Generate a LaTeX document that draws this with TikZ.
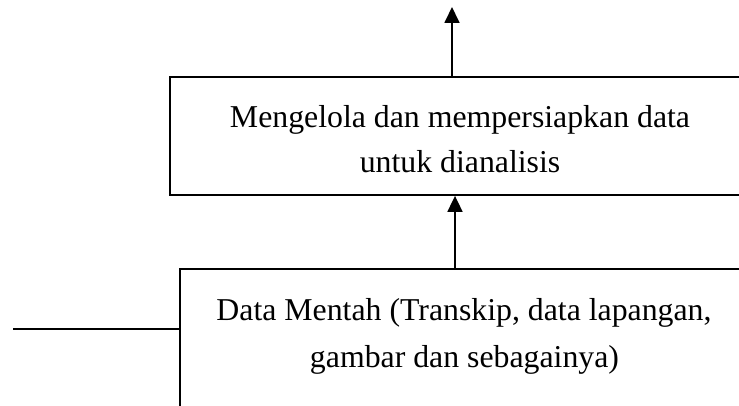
\documentclass[tikz,border=0pt]{standalone}
\usepackage{fontspec}
\setmainfont{Liberation Serif}
\usetikzlibrary{arrows.meta}
\begin{document}
\begin{tikzpicture}[x=1pt,y=-1pt,
  boxstyle/.style={draw=black,line width=1.8pt,rectangle,inner sep=0pt,fill=none},
  txt/.style={font=\fontsize{31.8}{46}\selectfont,inner sep=0pt,anchor=base},
  arr/.style={line width=1.8pt,-{Triangle[width=15pt,length=16pt]}},
  plain/.style={line width=1.8pt}]
\useasboundingbox (0,0) rectangle (739,406);
\node[boxstyle,minimum width=580pt,minimum height=118pt] (top) at (460,136) {};
\node[boxstyle,minimum width=570pt,minimum height=160pt] (bot) at (465,349) {};
\node[txt] (t1) at (460,128) {Mengelola dan mempersiapkan data};
\node[txt] (t2) at (460,173) {untuk dianalisis};
\node[txt] (b1) at (464,320) {Data Mentah (Transkip, data lapangan,};
\node[txt] (b2) at (464.5,367) {gambar dan sebagainya)};
\coordinate (a1) at (452,7);
\coordinate (a2) at (455,0);
\coordinate (lft) at (13,329);
\draw[arr] (a1 |- top.north) -- (a1);
\draw[arr] (a2 |- bot.north) -- (a2 |- top.south);
\draw[plain] (lft) -- (lft -| bot.west);
\end{tikzpicture}
\end{document}
